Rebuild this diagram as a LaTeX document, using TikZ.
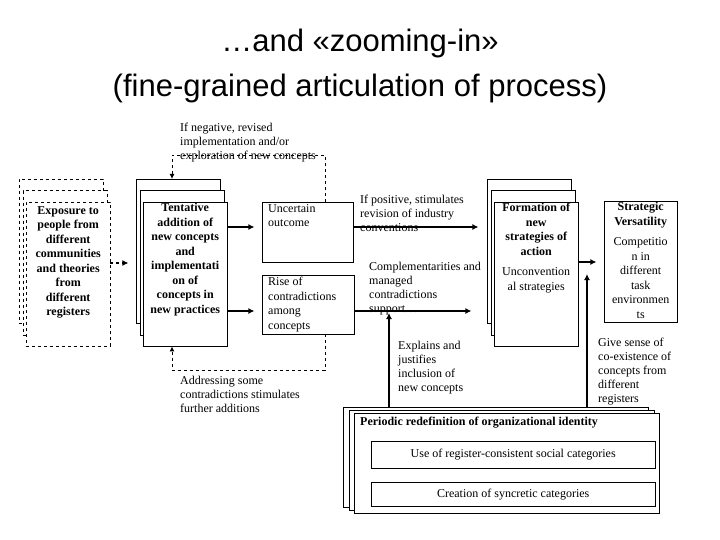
\documentclass[tikz,border=0pt]{standalone}
\usepackage{fontspec}
\setmainfont{Liberation Serif}
\newfontfamily\titlefont{Liberation Sans}
\usetikzlibrary{shadows,arrows.meta}
\tikzset{
  box/.style={draw,fill=white,inner sep=0pt,anchor=north west,font=\fontsize{12}{14.5}\selectfont},
  stack/.style={box,double copy shadow={shadow xshift=-3.5pt,shadow yshift=11.5pt}},
  dstack/.style={box,dashed,double copy shadow={shadow xshift=-3.5pt,shadow yshift=11.5pt,dashed}},
  label/.style={anchor=north west,align=left,inner sep=0pt,font=\fontsize{12}{14}\selectfont},
  flow/.style={line width=1.7pt,-{Latex[length=6pt,width=6pt]}},
  loop/.style={dashed,line width=0.9pt,-{Latex[length=5pt,width=5pt]}}
}
% box content: height, width, top gap, alignment, text
\newcommand{\boxtxt}[5]{\parbox[c][#1pt][t]{#2pt}{\vspace*{#3pt}#4 #5}}
\begin{document}
\begin{tikzpicture}[x=1pt,y=-1pt]
\useasboundingbox (0,0) rectangle (720,540);

\node[font=\titlefont\fontsize{31}{45}\selectfont,align=center] (title) at (360,66)
  {\ldots and «zooming-in»\\(fine-grained articulation of process)};

% stacks of boxes
\node[dstack] (expo) at (26,202)
  {\boxtxt{144}{84}{4}{\centering\bfseries}{Exposure to\\people from\\different\\communities\\and theories\\from\\different\\registers}};
\node[stack] (tent) at (143,202)
  {\boxtxt{144}{84}{1}{\centering\bfseries}{Tentative\\addition of\\new concepts\\and\\implementati\\on of\\concepts in\\new practices}};
\node[box] (unc) at (262,202)
  {\boxtxt{60}{91}{2}{\raggedright\leftskip6pt}{Uncertain\\outcome}};
\node[box] (rise) at (262,275)
  {\boxtxt{59}{92}{2}{\raggedright\leftskip6pt}{Rise of\\contradictions\\among\\concepts}};
\node[stack] (form) at (494,202)
  {\boxtxt{144}{84}{1}{\centering}{\textbf{Formation of\\new\\strategies of\\action}\\[6pt] Unconvention\\al strategies}};
\node[box] (strat) at (604,201)
  {\boxtxt{121}{73}{1}{\centering}{\textbf{Strategic\\Versatility}\\[6pt] Competitio\\n in\\different\\task\\environmen\\ts}};
\node[box,double copy shadow={shadow xshift=-5.5pt,shadow yshift=3pt}] (iden) at (354,413)
  {\boxtxt{100}{305}{4}{\raggedright\leftskip6pt}{\textbf{Periodic redefinition of organizational identity}}};
\node[box,minimum width=284pt,minimum height=27pt,align=center] (use) at (371,441)
  {Use of register-consistent social categories};
\node[box,minimum width=284pt,minimum height=24pt,align=center] (crea) at (371,482)
  {Creation of syncretic categories};

% labels
\node[label] (neg) at (180,123) {If negative, revised\\implementation and/or\\exploration of new concepts};
\node[label] (addr) at (180,376) {Addressing some\\contradictions stimulates\\further additions};
\node[label] (pos) at (360,195) {If positive, stimulates\\revision of industry\\conventions};
\node[label] (comp) at (369,262) {Complementarities and\\managed\\contradictions\\support\ldots};
\node[label] (expl) at (398,341) {Explains and\\justifies\\inclusion of\\new concepts};
\node[label] (give) at (598,338) {Give sense of\\co-existence of\\concepts from\\different\\registers};

% connectors
\draw[line width=1.5pt,dashed,-{Latex[length=6pt,width=6pt]}] (expo.north east) ++(0,61) -- ++(18,0);
\draw[flow] (tent.north east) ++(0,25) -- ++(27,0);
\draw[flow] (tent.north east) ++(0,109) -- ++(27,0);
\draw[flow] (unc.north east) ++(0,25) -- ++(125,0);
\draw[flow] (rise.north east) ++(0,36) -- ++(117,0);
\draw[flow] (form.north east) ++(0,60) -- ++(18,0);
\draw[flow] (iden.north west) ++(35,-6) -- ++(0,-94);
\draw[flow] (iden.north west) ++(233,-6) -- ++(0,-133);
\draw[loop] (unc.north west) ++(63,0) -- ++(0,-47) -- ++(-153,0) -- ++(0,24);
\draw[loop] (rise.south west) ++(63,0) -- ++(0,36) -- ++(-153,0) -- ++(0,-24);
\end{tikzpicture}
\end{document}
